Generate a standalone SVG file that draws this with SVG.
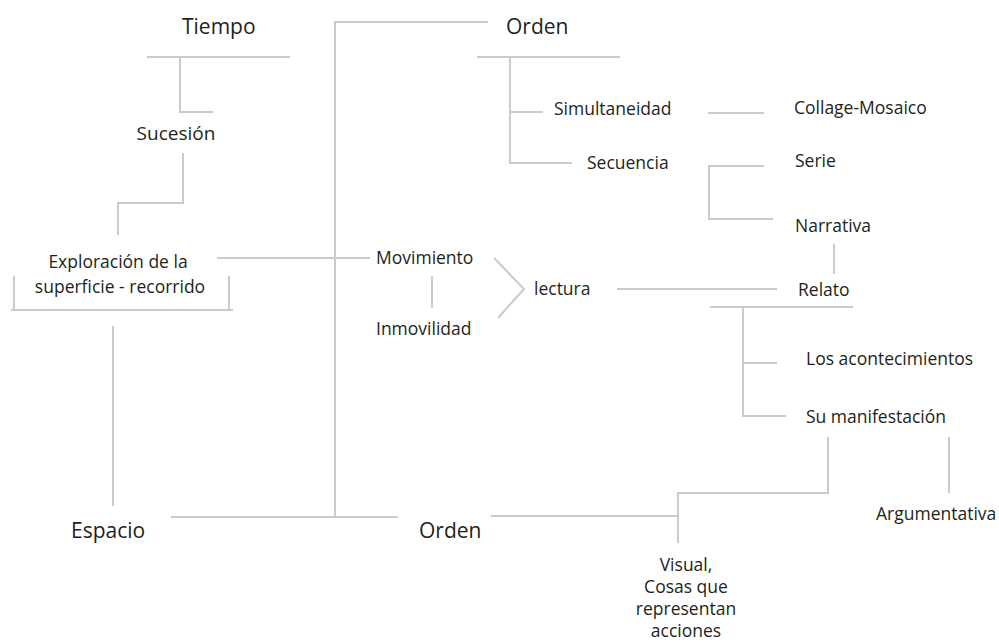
<svg xmlns="http://www.w3.org/2000/svg" width="999" height="642" viewBox="0 0 999 642">
<style>
.c{fill:none;stroke:#cbcbcb;stroke-width:2}
text{font-family:"Open Sans","Liberation Sans",sans-serif;fill:#231f20}
.b{font-size:21px}
.s{font-size:17.5px}
.m{text-anchor:middle}
</style>
<rect width="999" height="642" fill="#fff"/>
<g id="connectors" class="c">
<path d="M147,57H290M180,57V112H213"/>
<path d="M183,153V203H118V235"/>
<path d="M14,276V310M11,310H233M229,276V310"/>
<path d="M113,326V506"/>
<path d="M171,517H398"/>
<path d="M488,22H335V517"/>
<path d="M217,258H370"/>
<path d="M477,57H620M510,57V163H572M510,112H543"/>
<path d="M708,113H764"/>
<path d="M708,166H764M709,166V219H773"/>
<path d="M834,244V274"/>
<path d="M432,276V308"/>
<path d="M494,258L524,289L498,318"/>
<path d="M617,289H777"/>
<path d="M710,307H853M743,307V416H786M743,363H777"/>
<path d="M828,437V493H678V543"/>
<path d="M491,516H678"/>
<path d="M949,437V493"/>
</g>
<g id="tiempo"><text class="b" x="182" y="34">Tiempo</text></g>
<g id="orden-top"><text class="b" x="506" y="34">Orden</text></g>
<g id="sucesion"><text class="s" x="176" y="140" style="font-size:19px" text-anchor="middle">Sucesión</text></g>
<g id="exploracion"><text class="s m" x="118" y="268">Exploración de la</text><text class="s m" x="120" y="293">superficie - recorrido</text></g>
<g id="movimiento"><text class="s" x="376" y="264">Movimiento</text></g>
<g id="inmovilidad"><text class="s" x="376" y="335">Inmovilidad</text></g>
<g id="lectura"><text class="s" x="534" y="295">lectura</text></g>
<g id="simultaneidad"><text class="s" x="554" y="115">Simultaneidad</text></g>
<g id="secuencia"><text class="s" x="587" y="169">Secuencia</text></g>
<g id="collage"><text class="s" x="794" y="114">Collage-Mosaico</text></g>
<g id="serie"><text class="s" x="795" y="167">Serie</text></g>
<g id="narrativa"><text class="s" x="795" y="232">Narrativa</text></g>
<g id="relato"><text class="s" x="798" y="296">Relato</text></g>
<g id="acontecimientos"><text class="s" x="806" y="365">Los acontecimientos</text></g>
<g id="manifestacion"><text class="s" x="806" y="423">Su manifestación</text></g>
<g id="argumentativa"><text class="s" x="876" y="520">Argumentativa</text></g>
<g id="visual"><text class="s m" x="686" y="571">Visual,</text><text class="s m" x="686" y="593">Cosas que</text><text class="s m" x="686" y="615">representan</text><text class="s m" x="686" y="637">acciones</text></g>
<g id="espacio"><text class="b" x="71" y="538">Espacio</text></g>
<g id="orden-bottom"><text class="b" x="419" y="538">Orden</text></g>
</svg>
